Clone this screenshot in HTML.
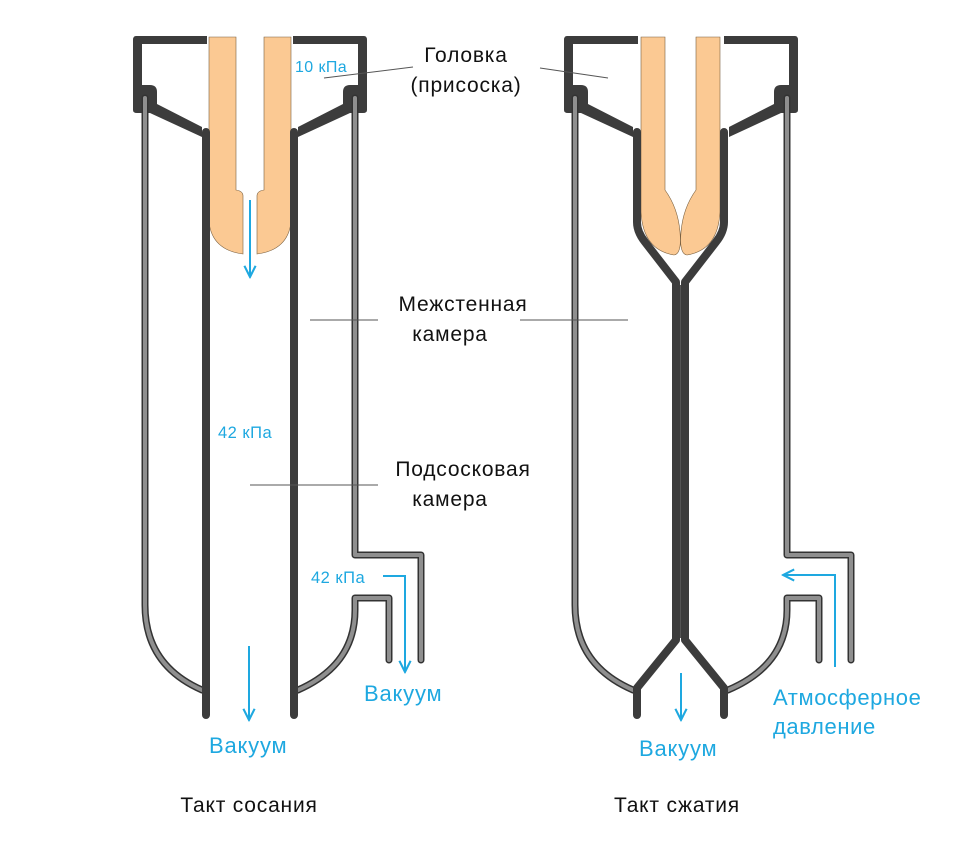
<!DOCTYPE html>
<html><head><meta charset="utf-8"><style>
html,body{margin:0;padding:0;background:#fff}
svg{display:block}
text{font-family:"Liberation Sans","DejaVu Sans",sans-serif}
</style></head><body>
<svg width="974" height="852" viewBox="0 0 974 852" xmlns="http://www.w3.org/2000/svg">
<defs>
<marker id="ah" viewBox="0 0 10 10" refX="9" refY="5" markerWidth="7" markerHeight="7" orient="auto"><path d="M1,1 L9,5 L1,9" fill="none" stroke="#1ea8e0" stroke-width="1.5"/></marker>
</defs>

<g>
<path d="M209,37 V222 Q212,250 243,254 V196 Q243,191 236,190 V37 Z" fill="#fbc993" stroke="#7a6040" stroke-width="0.6"/>
<path d="M291,37 V222 Q288,250 257,254 V196 Q257,191 264,190 V37 Z" fill="#fbc993" stroke="#7a6040" stroke-width="0.6"/>
<path d="M207,36 H136 Q133,36 133,40 V110 Q133,113 137,113 H150 L202,137 V127 L157,104 V92 Q157,85 150,85 H142 V44 H207 Z" fill="#3c3c3c"/>
<path d="M293,36 H364 Q367,36 367,40 V110 Q367,113 363,113 H350 L298,137 V127 L343,104 V92 Q343,85 350,85 H358 V44 H293 Z" fill="#3c3c3c"/>
<g fill="none" stroke-linecap="round" stroke-linejoin="round">
<path d="M145,98 V605 Q145,665 202,690" stroke="#333" stroke-width="7"/>
<path d="M145,98 V605 Q145,665 202,690" stroke="#8f8f8f" stroke-width="4"/>
<path d="M355,98 V555 H421 V660 M355,610 Q355,665 298,690 M355,610 V598 H389 V660" stroke="#333" stroke-width="7"/>
<path d="M355,98 V555 H421 V660 M355,610 Q355,665 298,690 M355,610 V598 H389 V660" stroke="#8f8f8f" stroke-width="4"/>
</g>
<path d="M206,132 V715 M294,132 V715" stroke="#3c3c3c" stroke-width="8" stroke-linecap="round"/>
</g>

<g>
<path d="M641,37 V212 Q643,250 674,255 Q682,254 680,232 Q678,208 665,190 V37 Z" fill="#fbc993" stroke="#7a6040" stroke-width="0.6"/>
<path d="M720,37 V212 Q718,250 687,255 Q679,254 681,232 Q683,208 696,190 V37 Z" fill="#fbc993" stroke="#7a6040" stroke-width="0.6"/>
<path d="M638,36 H567 Q564,36 564,40 V110 Q564,113 568,113 H581 L633,137 V127 L588,104 V92 Q588,85 581,85 H573 V44 H638 Z" fill="#3c3c3c"/>
<path d="M724,36 H795 Q798,36 798,40 V110 Q798,113 794,113 H781 L729,137 V127 L774,104 V92 Q774,85 781,85 H789 V44 H724 Z" fill="#3c3c3c"/>
<g fill="none" stroke-linecap="round" stroke-linejoin="round">
<path d="M575,98 V605 Q575,665 633,690" stroke="#333" stroke-width="7"/>
<path d="M575,98 V605 Q575,665 633,690" stroke="#8f8f8f" stroke-width="4"/>
<path d="M787,98 V555 H851 V660 M787,610 Q787,665 728,690 M787,610 V598 H819 V660" stroke="#333" stroke-width="7"/>
<path d="M787,98 V555 H851 V660 M787,610 Q787,665 728,690 M787,610 V598 H819 V660" stroke="#8f8f8f" stroke-width="4"/>
</g>
<g fill="none" stroke="#3c3c3c" stroke-width="8" stroke-linejoin="round" stroke-linecap="round">
<path d="M637,132 V222 Q637,232 645,242 L676,282 V640 L637,688 V715"/>
<path d="M724,132 V222 Q724,232 716,242 L685,282 V640 L724,688 V715"/>
</g>
<path d="M680.5,285 V638" stroke="#555" stroke-width="1"/>
</g>

<g stroke="#1ea8e0" stroke-width="2" fill="none" marker-end="url(#ah)">
<path d="M250,200 V277"/>
<path d="M249,646 V720"/>
<path d="M383,576 H405 V672"/>
<path d="M681,673 V720"/>
<path d="M835,667 V575 H783"/>
</g>

<g stroke="#555" stroke-width="1">
<path d="M324,78 L413,67"/>
<path d="M540,68 L608,78"/>
<path d="M310,320 H378"/>
<path d="M520,320 H628"/>
<path d="M250,485 H378"/>
</g>

<g fill="#1ea8e0">
<text x="295" y="72" font-size="16" letter-spacing="0.4">10 кПа</text>
<text x="218" y="438" font-size="16.5" letter-spacing="0.5">42 кПа</text>
<text x="311" y="583" font-size="16.5" letter-spacing="0.5">42 кПа</text>
<text x="364" y="701" font-size="22" letter-spacing="0.8">Вакуум</text>
<text x="209" y="753" font-size="22" letter-spacing="0.8">Вакуум</text>
<text x="639" y="756" font-size="22" letter-spacing="0.8">Вакуум</text>
<text x="773" y="705" font-size="22" letter-spacing="0.6">Атмосферное</text>
<text x="773" y="734" font-size="22" letter-spacing="0.6">давление</text>
</g>
<g fill="#111" font-size="21" text-anchor="middle" letter-spacing="0.8">
<text x="466" y="62">Головка</text>
<text x="466" y="92">(присоска)</text>
<text x="463" y="311">Межстенная</text>
<text x="450" y="341">камера</text>
<text x="463" y="476">Подсосковая</text>
<text x="450" y="506">камера</text>
<text x="249" y="812">Такт сосания</text>
<text x="677" y="812">Такт сжатия</text>
</g>
</svg>
</body></html>
